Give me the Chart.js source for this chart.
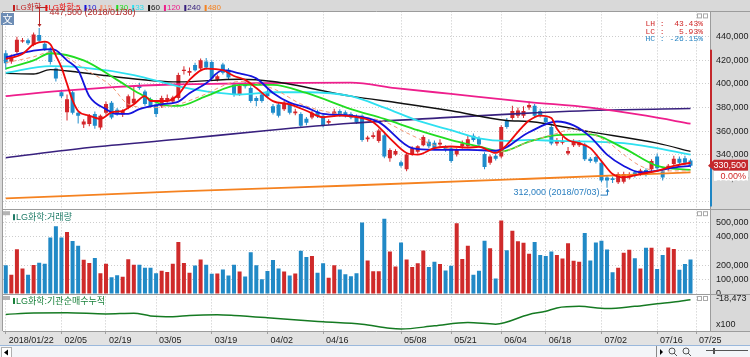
<!DOCTYPE html>
<html><head><meta charset="utf-8">
<style>html,body{margin:0;padding:0;background:#d8d8d8;overflow:hidden}canvas{display:block}</style>
<script src="https://cdn.jsdelivr.net/npm/chart.js@4/dist/chart.umd.min.js"></script>
</head><body>
<canvas id="c" width="750" height="357" style="width:750px;height:357px"></canvas>
<script>
// ---------------- DATA ----------------
const year = '2018';
const dates = [
 '01/22','01/23','01/24','01/25','01/26','01/29','01/30','01/31',
 '02/01','02/02','02/05','02/06','02/07','02/08','02/09','02/12','02/13','02/14','02/19','02/20','02/21','02/22','02/23','02/26','02/27','02/28',
 '03/02','03/05','03/06','03/07','03/08','03/09','03/12','03/13','03/14','03/15','03/16','03/19','03/20','03/21','03/22','03/23','03/26','03/27','03/28','03/29','03/30',
 '04/02','04/03','04/04','04/05','04/06','04/09','04/10','04/11','04/12','04/13','04/16','04/17','04/18','04/19','04/20','04/23','04/24','04/25','04/26','04/27','04/30',
 '05/02','05/03','05/04','05/08','05/09','05/10','05/11','05/14','05/15','05/16','05/17','05/18','05/21','05/23','05/24','05/25','05/28','05/29','05/30','05/31',
 '06/01','06/04','06/05','06/07','06/08','06/11','06/12','06/14','06/15','06/18','06/19','06/20','06/21','06/22','06/25','06/26','06/27','06/28','06/29',
 '07/02','07/03','07/04','07/05','07/06','07/09','07/10','07/11','07/12','07/13','07/16','07/17','07/18','07/19','07/20','07/23','07/24'
];
const futureDates = ['07/25','07/26','07/27'];
const tickDates = ['01/22','02/05','02/19','03/05','03/19','04/02','04/16','05/08','05/21','06/04','06/18','07/02','07/16','07/25'];

const opens = [426000,419000,427000,436000,437000,433000,441500,434000,428500,413000,
393000,376000,393000,375500,365500,366000,374500,363000,375500,384000,
378000,374000,380000,383500,399000,393500,387000,382500,381000,386000,
385000,388000,411000,409500,416000,413000,419000,418500,403500,416500,
412000,399500,391500,400500,396500,388000,391000,393500,381000,382500,
378500,382500,375000,374500,370500,371500,376500,373000,367000,373500,
377000,376000,374500,372500,373000,353000,355000,351500,356500,337000,
340000,333500,327500,340000,342500,348000,351000,350000,348500,346500,
345500,340000,347000,347000,356000,354000,340500,333000,339000,338500,
369000,371000,373000,373000,380000,381500,377000,371500,363500,349500,
350000,341000,348000,348000,348500,336500,338000,333000,320500,320000,
316500,317000,320500,325000,323500,327000,327500,338500,326000,328000,
332000,336500,337000,335000];
const highs = [428500,425000,440000,439000,438500,443500,447500,436000,431000,414000,
395000,391000,394500,377000,370000,374500,376500,374000,385000,385500,
379500,378500,391000,398000,401000,395000,388500,384000,390000,391000,
390000,409500,415000,414000,418000,421500,422000,420000,408000,418000,
413500,401500,400000,402000,398000,389500,393000,395500,383000,384500,
385500,384000,379000,376000,372000,377000,378000,374000,370000,379000,
378500,377500,376000,374000,374000,356000,359000,362000,358000,345500,
344500,335000,341500,347000,348000,356500,353000,352000,353000,348000,
347000,345500,352000,356000,358000,355500,342000,340000,340500,365000,
371000,381500,380000,381000,385000,383000,379000,373000,365000,354000,
355000,346500,353000,352500,350000,338000,339000,334500,322000,321500,
325000,325500,325000,326500,328000,328500,336000,341000,327500,332000,
339000,338500,339000,336500];
const lows = [412000,417000,425500,435000,433000,432000,435000,428000,416500,402000,
388000,369000,374000,366500,362500,364000,362000,361000,374000,370000,
373000,372000,378500,382000,395000,381500,379500,372000,379500,384000,
383500,386500,408000,407000,410500,411000,412000,403000,402000,408000,
404000,389000,390000,396000,384000,381000,384000,388000,374000,371500,
377000,374000,373500,363000,365000,370000,371000,363000,365500,372000,
372000,371500,370000,366000,351000,351000,353500,350000,337000,334000,
339000,329000,326000,339000,341000,347000,345500,344000,346500,342500,
333000,338500,345000,345500,351000,347000,327500,331500,335000,337000,
362000,369500,371000,371000,378000,371500,371500,366000,348000,347500,
348500,339500,346500,346500,334500,333000,332500,316500,312000,316000,
315000,315500,319000,320500,322000,321500,326000,327000,318000,326000,
330500,331500,331000,329000];
const closes = [417500,423000,437500,437000,434500,442000,436500,429500,418500,404500,
389500,387000,375500,373000,368000,373000,364500,373000,383000,371500,
375000,377000,389500,387500,396500,383000,381000,374500,388000,388000,
388500,407500,412000,411000,411500,420000,414000,404500,406500,409500,
405500,390500,398500,398000,385500,385500,385500,389500,375500,373000,
384000,375500,376500,364500,367000,375500,372500,364500,368500,376500,
373500,373000,371500,367500,352500,354500,356500,360500,338500,344000,
343000,330500,340000,345500,347000,355000,347000,345500,350000,344000,
334500,344000,349500,353000,352500,348500,329500,338500,336500,363500,
363500,377000,377500,377000,382000,373000,373000,367500,349500,352500,
351500,343000,351500,350500,336000,334500,334000,318000,318000,318500,
323500,323500,322500,322000,326500,323000,334500,328500,320500,330500,
336500,333000,333000,330500];
const volumes = [200000,133000,311000,178000,133000,202000,218000,211000,393000,471000,
393000,431000,369000,336000,238000,216000,251000,144000,211000,116000,
131000,120000,242000,204000,204000,182000,182000,144000,162000,153000,
211000,362000,216000,147000,198000,240000,204000,140000,142000,171000,
129000,204000,156000,122000,291000,200000,102000,160000,236000,178000,
156000,129000,142000,300000,258000,264000,147000,213000,113000,200000,
171000,138000,124000,144000,498000,233000,158000,158000,524000,296000,
191000,358000,240000,187000,213000,302000,187000,224000,209000,164000,
196000,493000,244000,336000,133000,162000,371000,318000,107000,511000,
304000,440000,367000,356000,280000,362000,271000,264000,296000,271000,
247000,353000,231000,224000,424000,233000,358000,371000,309000,151000,
182000,287000,307000,249000,178000,322000,322000,173000,271000,324000,
313000,169000,209000,240000];

// moving-average lines: [day index, value]
const ma5 = [[0,421200],[3,425400],[5,433600],[7,435900],[8,433600],[9,424000],[10,414000],[11,400000],[12,386000],[13,377000],[15,373100],[17,370300],[19,375800],[21,377200],[23,382700],[25,389600],[26,385500],[29,385500],[31,391000],[33,403400],[36,413000],[39,411600],[41,406700],[43,403400],[45,396500],[48,385400],[51,382700],[54,377200],[57,371700],[60,373100],[62,372500],[66,367500],[69,353800],[72,341400],[74,340000],[77,345500],[80,346900],[83,346000],[85,346500],[88,341400],[90,348300],[92,359300],[94,368900],[96,373100],[98,371000],[99,362000],[101,352400],[103,349700],[105,345500],[107,334500],[109,323500],[111,320700],[114,323500],[117,326200],[120,330400],[123,333100]];
const ma10 = [[0,422600],[5,428200],[8,429500],[9,428500],[11,420000],[13,411600],[15,389600],[18,378600],[20,374500],[22,374500],[24,378600],[28,382700],[31,385000],[33,392000],[36,400600],[39,411600],[42,408900],[45,404700],[48,392300],[51,384100],[54,379900],[57,374500],[62,373100],[67,367600],[73,345500],[77,344100],[83,344100],[88,343300],[94,359000],[99,368100],[102,364800],[105,355100],[108,340000],[111,330400],[114,325000],[117,326200],[120,329000],[123,330400]];
const ma15 = [[0,418000],[5,423000],[8,427000],[15,410300],[19,397900],[22,382700],[26,379900],[31,382700],[35,389600],[42,402000],[48,396000],[53,383000],[57,377000],[62,373100],[68,368000],[72,358500],[78,346500],[84,344100],[89,342700],[94,351000],[99,358000],[102,362000],[108,351000],[111,340000],[114,330400],[117,326200],[123,326200]];
const ma30 = [[0,413000],[5,419900],[8,426000],[14,419900],[20,403400],[24,391800],[28,382700],[31,381300],[36,389600],[42,399200],[48,399200],[54,392300],[62,378600],[68,370300],[74,360700],[80,352400],[85,346900],[89,342700],[94,351000],[99,356500],[105,357100],[111,345500],[117,330400],[123,327000]];
const ma33 = [[0,409400],[8,415000],[14,413800],[23,407500],[31,397900],[36,393700],[42,391000],[48,392900],[54,392900],[62,389600],[68,379900],[74,368900],[80,360700],[85,353800],[90,351600],[94,352500],[99,351600],[111,349700],[123,340000]];
const ma60 = [[0,408900],[5,408400],[8,412100],[12,410500],[17,407500],[31,401700],[42,403900],[48,402000],[62,389600],[71,383600],[80,377200],[90,368900],[94,368100],[105,359300],[117,349700],[123,342700]];
const ma120 = [[0,389600],[10,394000],[20,397500],[30,399500],[45,400600],[62,401000],[70,396500],[80,391500],[94,384600],[105,379900],[115,373000],[123,366200]];
const ma240 = [[0,337300],[15,346000],[31,353000],[47,360500],[62,366600],[78,371200],[93,375000],[108,377800],[123,379100]];
const ma480 = [[0,302800],[31,308900],[62,313800],[93,319300],[123,324900]];
// institutional net-buying cumulative (x100 shares): [day index, value]
const instCum = [[0,-19973],[5,-19823],[11,-19803],[18,-19923],[23,-19843],[26,-20123],[30,-20203],[33,-20073],[38,-20003],[41,-20073],[47,-20303],[53,-20573],[57,-20723],[64,-20973],[69,-21403],[71,-21473],[77,-21143],[83,-20803],[88,-20973],[94,-19973],[97,-19643],[99,-19303],[103,-19143],[108,-19373],[113,-19143],[117,-18873],[120,-18703],[123,-18473]];

const priceTicks = [300000,320000,340000,360000,380000,400000,420000,440000];
const volumeTicks = [0,100000,200000,300000,400000,500000];
const volumeTickLabels = ['0','100,000','200,000','','400,000','500,000'];
const maNames = ['10','15','30','33','60','120','240','480'];
const rangeMarks = [429000, 296000];
const changeText = '0.00%';

// ---------------- STYLE ----------------
const FONT = "'Liberation Sans','Noto Sans CJK KR',sans-serif";
const RED = '#d3262b', BLUE = '#1f8ccb';
const VRED = '#cf2a2a', VBLUE = '#2189c6';
const C = {ma5:'#ee0a0a', ma10:'#1414dc', ma15:'#f39a78', ma30:'#22dc22', ma33:'#2ee0f0', ma60:'#111111', ma120:'#ee1e8c', ma240:'#38207e', ma480:'#f58220'};

const labels = dates.concat(futureDates);
const up = closes.map((c, i) => c >= opens[i]);
const fmt = v => String(v).replace(/\B(?=(\d{3})+(?!\d))/g, ',');
const pts = arr => arr.map(([i, v]) => ({x: labels[i], y: v}));

function lineDs(data, color, w, extra) {
  return Object.assign({type:'line', data: pts(data), borderColor: color, borderWidth: w, pointRadius: 0,
    cubicInterpolationMode: 'monotone', yAxisID: 'y', order: 0, fill: false}, extra || {});
}

const datasets = [
  lineDs(ma5, C.ma5, 1.8),
  lineDs(ma10, C.ma10, 1.8),
  lineDs(ma15, C.ma15, 1, {borderDash:[4,3]}),
  lineDs(ma30, C.ma30, 1.8),
  lineDs(ma33, C.ma33, 1.8),
  lineDs(ma60, C.ma60, 1.4),
  lineDs(ma120, C.ma120, 1.8),
  lineDs(ma240, C.ma240, 1.6),
  lineDs(ma480, C.ma480, 1.8),
  {type:'bar', data: opens.map((o, i) => [o, closes[i]]), backgroundColor: up.map(u => u ? RED : BLUE),
   barThickness: 4, minBarLength: 1, grouped: false, yAxisID: 'y', order: 1, inflateAmount: 0, borderWidth: 0},
  {type:'bar', data: lows.map((l, i) => [l, highs[i]]), backgroundColor: up.map(u => u ? RED : BLUE),
   barThickness: 1, grouped: false, yAxisID: 'y', order: 2, inflateAmount: 0, borderWidth: 0},
  {type:'bar', data: volumes, backgroundColor: up.map(u => u ? VRED : VBLUE),
   barThickness: 4, grouped: false, yAxisID: 'yVol', order: 1, inflateAmount: 0, borderWidth: 0},
  {type:'line', data: pts(instCum), borderColor: '#157a22', borderWidth: 1.5, pointRadius: 0,
   cubicInterpolationMode: 'monotone', yAxisID: 'yInst', order: 0}
];

function text(ctx, s, x, y, color, size, align, weight, fam) {
  ctx.font = (weight || '') + ' ' + size + 'px ' + (fam || FONT);
  ctx.fillStyle = color; ctx.textAlign = align || 'left'; ctx.textBaseline = 'middle';
  ctx.fillText(s, x, y);
  return ctx.measureText(s).width;
}

const deco = {
  id: 'deco',
  beforeDraw(chart) {
    const {ctx, chartArea: a, scales} = chart;
    ctx.save();
    ctx.fillStyle = '#d9d9d9'; ctx.fillRect(0, 0, 750, 357);
    ['y', 'yVol', 'yInst'].forEach(id => {
      const s = scales[id];
      ctx.fillStyle = '#ffffff';
      ctx.fillRect(a.left, s.top, a.right - a.left, s.bottom - s.top);
    });
    ctx.fillStyle = '#e2e2e2';
    ctx.fillRect(0, a.bottom, 750, scales.x.bottom - a.bottom);
    ctx.fillStyle = '#f3f5f8'; ctx.fillRect(0, scales.x.bottom, 750, 357 - scales.x.bottom);
    ctx.restore();
  },
  afterDraw(chart) {
    const {ctx, chartArea: a, scales} = chart;
    const y = scales.y, x = scales.x;
    ctx.save();
    ctx.strokeStyle = '#9c9c9c'; ctx.lineWidth = 1;
    [y.top, scales.yVol.top, scales.yInst.top, a.bottom].forEach(py => {
      ctx.beginPath(); ctx.moveTo(a.left, Math.round(py) + 0.5); ctx.lineTo(750, Math.round(py) + 0.5); ctx.stroke();
    });
    ctx.beginPath(); ctx.moveTo(a.left - 0.5, a.top); ctx.lineTo(a.left - 0.5, a.bottom); ctx.stroke();
    ctx.beginPath(); ctx.moveTo(a.right + 0.5, a.top); ctx.lineTo(a.right + 0.5, a.bottom); ctx.stroke();
    // scroll strip
    ctx.strokeStyle = '#9ab8dc';
    ctx.beginPath(); ctx.moveTo(0, x.bottom + 0.5); ctx.lineTo(750, x.bottom + 0.5); ctx.stroke();
    ctx.fillStyle = '#ffffff'; ctx.fillRect(1, x.bottom + 2, 10, 10);
    ctx.strokeStyle = '#b0b0b0'; ctx.strokeRect(1.5, x.bottom + 2.5, 10, 10);
    ctx.fillStyle = '#000';
    ctx.beginPath(); ctx.moveTo(4, x.bottom + 7.5); ctx.lineTo(8, x.bottom + 4.5); ctx.lineTo(8, x.bottom + 10.5); ctx.fill();
    ctx.strokeStyle = '#888';
    ctx.beginPath(); ctx.moveTo(656.5, x.bottom + 1); ctx.lineTo(656.5, 357); ctx.stroke();
    ctx.beginPath(); ctx.moveTo(660, x.bottom + 4); ctx.lineTo(663, x.bottom + 7); ctx.lineTo(660, x.bottom + 10); ctx.fill();
    ctx.strokeStyle = '#555';
    [672, 686].forEach(cx => { ctx.beginPath(); ctx.arc(cx, x.bottom + 6, 3, 0, Math.PI * 2); ctx.stroke();
      ctx.beginPath(); ctx.moveTo(cx + 2, x.bottom + 8); ctx.lineTo(cx + 5, x.bottom + 11); ctx.stroke(); });
    ctx.beginPath(); ctx.moveTo(706, x.bottom + 5.5); ctx.lineTo(748, x.bottom + 5.5); ctx.stroke();
    ctx.fillStyle = '#555'; ctx.fillRect(713, x.bottom + 3, 2, 6);

    [y.top, scales.yVol.top, scales.yInst.top].forEach(t => {
      ctx.fillStyle = '#b4b4b4'; ctx.fillRect(a.left, t + 2, 7, 4);
      ctx.strokeStyle = '#a8a8a8';
      ctx.strokeRect(697.5, t + 2.5, 4, 4); ctx.strokeRect(703.5, t + 2.5, 4, 4);
    });

    // top legend
    let lx = 13;
    const cols = [C.ma10, C.ma15, C.ma30, C.ma33, C.ma60, C.ma120, C.ma240, C.ma480];
    const legend = [['LG화학', '#c01e1e'], ['LG화학:5', C.ma5]].concat(maNames.map((n, i) => [n, cols[i]]));
    legend.forEach(([s, col]) => {
      ctx.fillStyle = col; ctx.fillRect(lx, 5, 2, 6);
      const w = text(ctx, s, lx + 3, 8, col, 8);
      lx += w + 7;
    });
    const vt = scales.yVol.top, it = scales.yInst.top;
    ctx.fillStyle = '#1d7a66'; ctx.fillRect(13, vt + 5, 2, 6);
    text(ctx, 'LG화학:거래량', 16, vt + 8.5, '#1d7a66', 9);
    ctx.fillStyle = '#18803a'; ctx.fillRect(13, it + 4, 2, 6);
    text(ctx, 'LG화학:기관순매수누적', 16, it + 7.5, '#18803a', 9);

    ctx.fillStyle = '#6d8db5'; ctx.fillRect(1, 13, 13, 12);
    text(ctx, '文', 7.5, 19.5, '#ffffff', 10, 'center', '', "'Noto Sans CJK KR',sans-serif");

    // high / low annotations
    const hi = Math.max(...highs), hiIdx = highs.indexOf(hi);
    const lo = Math.min(...lows), loIdx = lows.indexOf(lo);
    const hx = Math.round(x.getPixelForValue(hiIdx)) + 0.5, hy = y.getPixelForValue(hi);
    ctx.strokeStyle = '#b42828'; ctx.fillStyle = '#b42828'; ctx.lineWidth = 1;
    ctx.beginPath(); ctx.moveTo(hx - 3, 7.5); ctx.lineTo(hx + 8, 7.5); ctx.moveTo(hx, 7.5); ctx.lineTo(hx, hy - 2); ctx.stroke();
    ctx.beginPath(); ctx.moveTo(hx - 2, hy - 4); ctx.lineTo(hx + 2, hy - 4); ctx.lineTo(hx, hy - 1); ctx.fill();
    text(ctx, fmt(hi) + ' (' + year + '/' + dates[hiIdx] + ')', hx + 10, 12.5, '#b42828', 9);
    const lxp = Math.round(x.getPixelForValue(loIdx)) + 0.5, ly = y.getPixelForValue(lo);
    ctx.strokeStyle = '#2a7fc0'; ctx.fillStyle = '#2a7fc0';
    ctx.beginPath(); ctx.moveTo(lxp - 7, ly + 7.5); ctx.lineTo(lxp, ly + 7.5); ctx.lineTo(lxp, ly + 2); ctx.stroke();
    ctx.beginPath(); ctx.moveTo(lxp - 2, ly + 4); ctx.lineTo(lxp + 2, ly + 4); ctx.lineTo(lxp, ly + 1); ctx.fill();
    text(ctx, fmt(lo) + ' (' + year + '/' + dates[loIdx] + ')', lxp - 8, ly + 4.5, '#2a7fc0', 9, 'right');

    const last = closes[closes.length - 1];
    const pct = v => (v * 100).toFixed(2) + '%';
    const mono = "'Liberation Mono',monospace";
    text(ctx, 'LH : ' + pct(hi / lo - 1).padStart(7), 703, 24, '#d02828', 8, 'right', '', mono);
    text(ctx, 'LC : ' + pct(last / lo - 1).padStart(7), 703, 31.5, '#d02828', 8, 'right', '', mono);
    text(ctx, 'HC : ' + pct(last / hi - 1).padStart(7), 703, 39, '#2a86c4', 8, 'right', '', mono);

    const py = y.getPixelForValue(last);
    ctx.fillStyle = '#c4282c'; ctx.fillRect(a.right, y.getPixelForValue(rangeMarks[0]), 2, py - y.getPixelForValue(rangeMarks[0]));
    ctx.fillStyle = '#1f86c4'; ctx.fillRect(a.right, py, 2, y.getPixelForValue(rangeMarks[1]) - py);
    ctx.fillStyle = '#c4282c';
    ctx.beginPath(); ctx.moveTo(a.right - 2, py); ctx.lineTo(a.right + 4, py - 6); ctx.lineTo(748, py - 6); ctx.lineTo(748, py + 5); ctx.lineTo(a.right + 4, py + 5); ctx.closePath(); ctx.fill();
    text(ctx, fmt(last), 746, py, '#ffffff', 9, 'right');
    ctx.fillStyle = '#ffffff'; ctx.fillRect(714, py + 5, 34, 10);
    text(ctx, changeText, 746, py + 10.5, '#d02828', 9, 'right');
    ctx.restore();
  }
};

const gridDash = [1, 2];
new Chart(document.getElementById('c'), {
  type: 'bar',
  data: {labels, datasets},
  plugins: [deco],
  options: {
    responsive: false, animation: false, devicePixelRatio: 1,
    layout: {padding: {left: 3, right: 0, top: 3, bottom: 12}},
    plugins: {legend: {display: false}, tooltip: {enabled: false}},
    scales: {
      x: {
        type: 'category', offset: true,
        grid: {offset: false, color: c => tickDates.includes(labels[c.index]) ? '#c6c6c6' : 'rgba(0,0,0,0)',
               tickColor: c => tickDates.includes(labels[c.index]) ? '#a0a0a0' : 'rgba(0,0,0,0)', tickLength: 3, lineWidth: 1},
        border: {display: false, dash: gridDash},
        ticks: {autoSkip: false, maxRotation: 0, minRotation: 0, align: 'start', labelOffset: 3, padding: 1,
                color: '#222', font: {size: 9, family: FONT},
                callback: (v, i) => tickDates.includes(labels[i]) ? (i === 0 ? year + '/' + labels[i] : labels[i]) : ''},
        afterFit: s => { s.height = 14; }
      },
      y: {
        position: 'right', stack: 'panels', stackWeight: 203, min: 293700, max: 461500,
        afterBuildTicks: s => { s.ticks = priceTicks.map(v => ({value: v})); },
        grid: {color: '#cdcdcd', drawTicks: false}, border: {display: false, dash: gridDash},
        ticks: {autoSkip: false, padding: 6, color: '#222', font: {size: 9, family: FONT}, callback: v => v >= 310000 ? fmt(v) : ''},
        afterFit: s => { s.width = 40; }
      },
      yVol: {
        position: 'right', stack: 'panels', stackWeight: 87, min: 0, max: 590000,
        afterBuildTicks: s => { s.ticks = volumeTicks.map(v => ({value: v})); },
        grid: {color: c => c.tick && c.tick.value === 0 ? 'rgba(0,0,0,0)' : '#cdcdcd', drawTicks: false}, border: {display: false, dash: gridDash},
        ticks: {autoSkip: false, padding: 6, color: '#222', font: {size: 9, family: FONT}, callback: (v, i) => volumeTickLabels[i]},
        afterFit: s => { s.width = 40; }
      },
      yInst: {
        position: 'right', stack: 'panels', stackWeight: 38, min: -21673, max: -17873,
        afterBuildTicks: s => { s.ticks = [{value: instCum[instCum.length - 1][1] + 100}, {value: -20973}]; },
        grid: {color: 'rgba(0,0,0,0)', drawTicks: false}, border: {display: false},
        ticks: {autoSkip: false, padding: 6, color: '#222', font: {size: 9, family: FONT},
                callback: (v, i) => i === 0 ? fmt(instCum[instCum.length - 1][1]) : 'x100'},
        afterFit: s => { s.width = 40; }
      }
    }
  }
});
</script>
</body></html>
